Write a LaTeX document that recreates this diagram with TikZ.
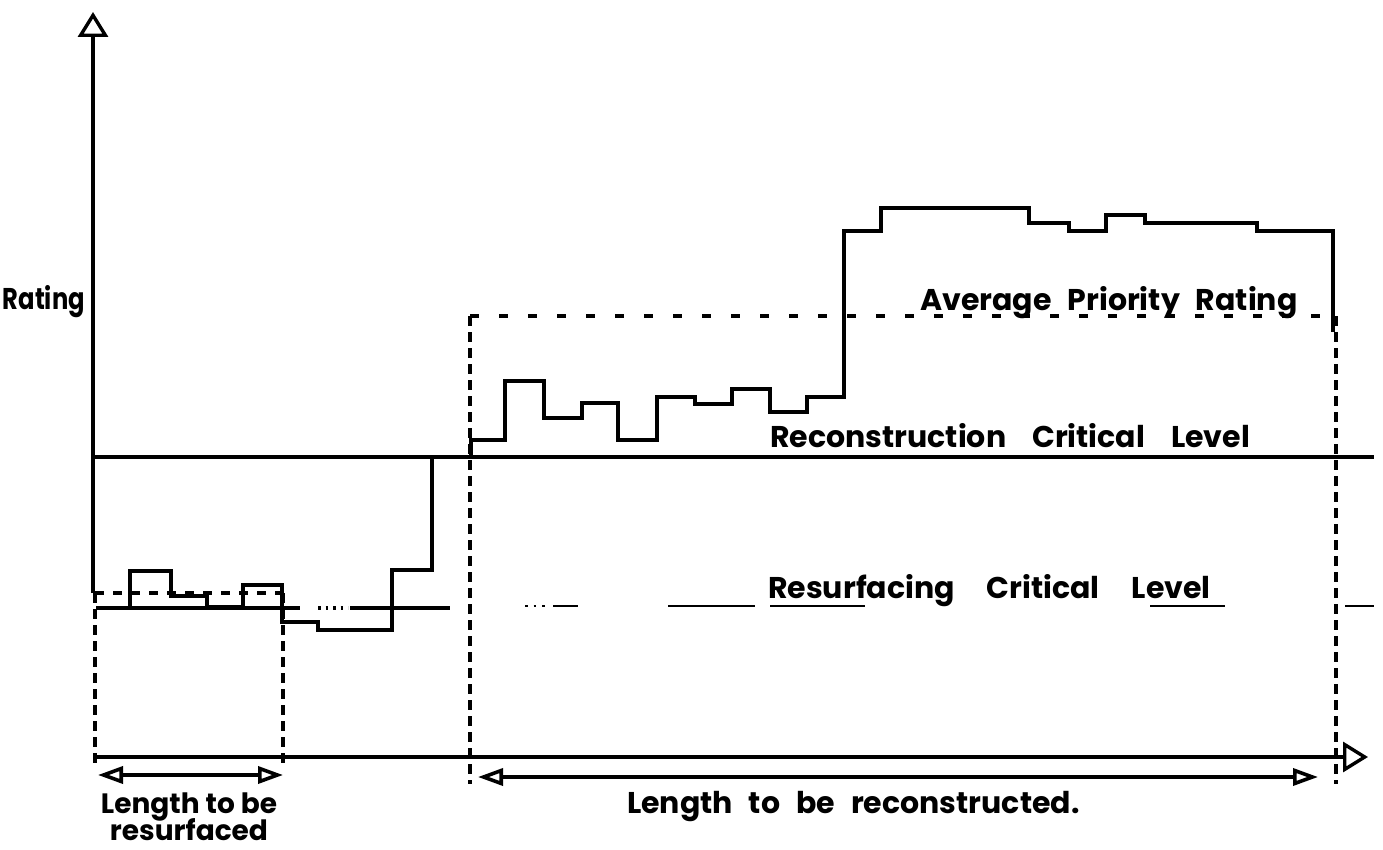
\documentclass[tikz,border=0pt]{standalone}
\usepackage{fontspec}
\setmainfont{Poppins}
\usetikzlibrary{arrows.meta}
\begin{document}
\begin{tikzpicture}[x=1pt,y=-1pt,line join=miter,
  axisline/.style={line width=3.6pt},
  axishead/.style={-{Triangle[open,length=25pt,width=30pt,line width=3.4pt]}},
  prof/.style={line width=3.4pt},
  recon/.style={line width=4.4pt},
  resurf/.style={line width=3.2pt},
  boxdash/.style={line width=3.6pt,dash pattern=on 10pt off 6pt},
  avgdash/.style={line width=3.6pt,dash pattern=on 9pt off 20pt},
  smalldash/.style={line width=3.4pt,dash pattern=on 9pt off 9pt},
  dimline/.style={line width=3.6pt,{Triangle[open,length=25pt,width=17pt,line width=3.6pt]}-{Triangle[open,length=25pt,width=17pt,line width=3.6pt]}},
  lbl/.style={inner sep=0pt,anchor=base west,font=\fontsize{30}{34}\selectfont\bfseries}]
\useasboundingbox (0,0) rectangle (1383,850);

% axes
\coordinate (O) at (93,757);
\coordinate (ytop) at (93,12);
\coordinate (ybreak) at (93,593);
\coordinate (xend) at (1368,757);
\draw[axisline,axishead] (ybreak) -- (ytop);
\draw[axisline,axishead] (O) -- (xend);

% critical levels
\coordinate (recL) at (93,457);
\coordinate (recR) at (1374,457);
\draw[recon] (recL) -- (recR);

\draw[resurf] (96,608) -- (300,608);
\draw[resurf,dash pattern=on 2.5pt off 5pt] (318,608) -- (348,608);
\draw[resurf] (350,608) -- (450,608);
\draw[line width=2.4pt,dash pattern=on 2.5pt off 6pt] (525,606) -- (548,606);
\draw[line width=2.4pt] (553,606) -- (578,606);
\draw[line width=2.4pt] (668,606) -- (755,606);
\draw[line width=2.4pt] (770,606) -- (865,606);
\draw[line width=2.4pt] (1150,606) -- (1225,606);
\draw[line width=2.8pt] (1345,606) -- (1374,606);

% left (resurfacing) box
\coordinate (lbTL) at (95,593);
\coordinate (lbTR) at (283,593);
\coordinate (lbBL) at (95,765);
\coordinate (lbBR) at (283,765);
\draw[smalldash] (lbTL) -- (lbTR);
\draw[boxdash] (lbTL) -- (lbBL);
\draw[boxdash] (lbTR) -- (lbBR);

% right (reconstruction) box
\coordinate (rbTL) at (470,316);
\coordinate (rbTR) at (1336,316);
\coordinate (rbBL) at (470,784);
\coordinate (rbBR) at (1336,784);
\draw[avgdash] (rbTL) -- (rbTR);
\draw[boxdash] (rbTL) -- (rbBL);
\draw[boxdash] (rbTR) -- (rbBR);

% left profile
\draw[prof] (96,608) -- (130,608) -- (130,571) -- (171,571) -- (171,596) -- (207,596)
  -- (207,607) -- (243,607) -- (243,585) -- (282,585) -- (282,622) -- (318,622)
  -- (318,630) -- (392,630) -- (392,570) -- (432,570) -- (432,457);

% right profile
\draw[prof] (471,457) -- (471,440) -- (505,440) -- (505,381) -- (544,381) -- (544,418)
  -- (582,418) -- (582,403) -- (618,403) -- (618,440) -- (657,440) -- (657,397)
  -- (695,397) -- (695,404) -- (732,404) -- (732,389) -- (770,389) -- (770,412)
  -- (807,412) -- (807,397) -- (844,397) -- (844,231) -- (881,231) -- (881,208)
  -- (1029,208) -- (1029,223) -- (1069,223) -- (1069,231) -- (1106,231) -- (1106,215)
  -- (1145,215) -- (1145,223) -- (1257,223) -- (1257,231) -- (1333,231) -- (1333,332);

% dimension arrows
\coordinate (dlA) at (98,775);
\coordinate (dlB) at (283,775);
\coordinate (drA) at (478,777);
\coordinate (drB) at (1318,777);
\draw[dimline] (dlA) -- (dlB);
\draw[dimline] (drA) -- (drB);

% labels
\node[lbl,anchor=base east] (rating) at (85,309) {\resizebox{82pt}{\height}{Rating}};
\node[lbl] (avg) at (920,310) {Average\hspace{16pt}Priority\hspace{16pt}Rating};
\node[lbl] (reclbl) at (770,447) {Reconstruction\hspace{26pt}Critical\hspace{26pt}Level};
\node[lbl] (reslbl) at (768,598) {Resurfacing\hspace{32pt}Critical\hspace{32pt}Level};
\node[lbl] (lenrec) at (627,813) {Length\hspace{16pt}to\hspace{16pt}be\hspace{16pt}reconstructed.};
\node[lbl,anchor=base,font=\fontsize{28}{32}\selectfont\bfseries] (lenres1) at (189,813) {Length to be};
\node[lbl,anchor=base,font=\fontsize{28}{32}\selectfont\bfseries] (lenres2) at (189,840) {resurfaced};
\end{tikzpicture}
\end{document}
